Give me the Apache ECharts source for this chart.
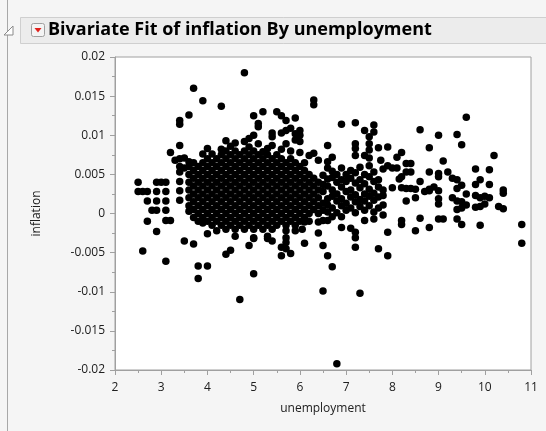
<!DOCTYPE html>
<html>
<head>
<meta charset="utf-8">
<script src="https://cdn.jsdelivr.net/npm/echarts@6/dist/echarts.min.js"></script>
<style>
  html, body { margin: 0; padding: 0; background: #f5f5f5; }
  #chart { width: 546px; height: 431px; }
</style>
</head>
<body>
<div id="chart"></div>
<script>
// Report title and axis names
const reportTitle = 'Bivariate Fit of inflation By unemployment';
const xName = 'unemployment';
const yName = 'inflation';

// Axis ranges and tick steps
const xRange = [2, 11];
const xStep = 1;
const yRange = [-0.02, 0.02];
const yStep = 0.005;

// Observations as [unemployment, inflation], grouped by unemployment range
const obsBelow36 = [
  [2.5,0.0040],[2.5,0.0028],[2.6,0.0028],[2.7,0.0028],[2.7,0.0016],[2.6,-0.0048],[2.7,-0.0010],[2.9,-0.0023],
  [2.9,0.0040],[3.0,0.0040],[3.1,0.0040],[2.9,0.0028],[3.1,0.0028],[2.9,0.0016],[3.1,0.0016],
  [2.8,0.0004],[2.9,0.0004],[3.1,0.0004],[3.1,-0.0009],[3.2,-0.0009],[3.1,-0.0061],[3.2,0.0078],
  [3.4,0.0087],[3.4,0.0119],[3.4,0.0114],[3.6,0.0126],[3.7,0.0160],[3.9,0.0144],
  [3.4,0.0041],[3.4,0.0029],[3.4,0.0017],[3.6,0.0003],[3.5,-0.0035],[3.7,-0.0039],
  [3.3,0.0068],[3.4,0.0070],[3.5,0.0071],[3.6,0.0066],[3.4,0.0060],[3.5,0.0058],[3.4,0.0053]
];

const obs36to49 = [
  [3.6,0.0010],[3.6,0.0020],[3.6,0.0030],[3.6,0.0040],[3.6,0.0050],[3.6,0.0060],
  [3.7,-0.0005],[3.7,0.0005],[3.7,0.0015],[3.7,0.0025],[3.7,0.0035],[3.7,0.0045],[3.7,0.0055],[3.7,0.0065],
  [3.8,-0.0010],[3.8,0.0000],[3.8,0.0010],[3.8,0.0020],[3.8,0.0030],[3.8,0.0040],[3.8,0.0050],[3.8,0.0060],
  [3.9,-0.0012],[3.9,-0.0005],[3.9,0.0005],[3.9,0.0015],[3.9,0.0025],[3.9,0.0035],[3.9,0.0045],[3.9,0.0055],[3.9,0.0065],[3.9,0.0076],
  [4.0,-0.0010],[4.0,0.0000],[4.0,0.0010],[4.0,0.0020],[4.0,0.0030],[4.0,0.0040],[4.0,0.0050],[4.0,0.0060],[4.0,0.0070],[4.0,0.0083],
  [4.1,-0.0015],[4.1,-0.0005],[4.1,0.0005],[4.1,0.0015],[4.1,0.0025],[4.1,0.0035],[4.1,0.0045],[4.1,0.0055],[4.1,0.0065],[4.1,0.0076],
  [4.2,-0.0010],[4.2,0.0000],[4.2,0.0010],[4.2,0.0020],[4.2,0.0030],[4.2,0.0040],[4.2,0.0050],[4.2,0.0060],[4.2,0.0070],
  [4.3,-0.0015],[4.3,-0.0005],[4.3,0.0005],[4.3,0.0015],[4.3,0.0025],[4.3,0.0035],[4.3,0.0045],[4.3,0.0055],[4.3,0.0065],[4.3,0.0075],[4.3,0.0082],[4.3,0.0137],
  [4.4,-0.0020],[4.4,-0.0010],[4.4,0.0000],[4.4,0.0010],[4.4,0.0020],[4.4,0.0030],[4.4,0.0040],[4.4,0.0050],[4.4,0.0060],[4.4,0.0070],[4.4,0.0080],[4.4,0.0093],
  [4.5,-0.0015],[4.5,-0.0005],[4.5,0.0005],[4.5,0.0015],[4.5,0.0025],[4.5,0.0035],[4.5,0.0045],[4.5,0.0055],[4.5,0.0065],[4.5,0.0075],[4.5,0.0086],
  [4.6,-0.0020],[4.6,-0.0010],[4.6,0.0000],[4.6,0.0010],[4.6,0.0020],[4.6,0.0030],[4.6,0.0040],[4.6,0.0050],[4.6,0.0060],[4.6,0.0070],[4.6,0.0080],[4.6,0.0090],
  [4.7,-0.0015],[4.7,-0.0005],[4.7,0.0005],[4.7,0.0015],[4.7,0.0025],[4.7,0.0035],[4.7,0.0045],[4.7,0.0055],[4.7,0.0065],[4.7,0.0075],
  [4.8,-0.0020],[4.8,-0.0010],[4.8,0.0000],[4.8,0.0010],[4.8,0.0020],[4.8,0.0030],[4.8,0.0040],[4.8,0.0050],[4.8,0.0060],[4.8,0.0070],[4.8,0.0080],[4.8,0.0092],[4.8,0.0180],
  [4.9,-0.0015],[4.9,-0.0005],[4.9,0.0005],[4.9,0.0015],[4.9,0.0025],[4.9,0.0035],[4.9,0.0045],[4.9,0.0055],[4.9,0.0065],[4.9,0.0075],[4.9,0.0085],[4.9,0.0096],
  [3.8,-0.0067],[4.0,-0.0067],[3.8,-0.0083],[4.0,-0.0026],[4.2,-0.0022],[4.6,-0.0029],[4.4,-0.0052],[4.5,-0.0047],[4.7,-0.0110],[4.9,-0.0041]
];

const obs50to64 = [
  [5.0,-0.0020],[5.0,-0.0010],[5.0,0.0000],[5.0,0.0010],[5.0,0.0020],[5.0,0.0030],[5.0,0.0040],[5.0,0.0050],[5.0,0.0060],[5.0,0.0070],[5.0,0.0080],[5.0,0.0100],[5.0,0.0125],
  [5.1,-0.0015],[5.1,-0.0005],[5.1,0.0005],[5.1,0.0015],[5.1,0.0025],[5.1,0.0035],[5.1,0.0045],[5.1,0.0055],[5.1,0.0065],[5.1,0.0075],[5.1,0.0089],[5.1,0.0111],[5.1,0.0115],
  [5.2,-0.0020],[5.2,-0.0010],[5.2,0.0000],[5.2,0.0010],[5.2,0.0020],[5.2,0.0030],[5.2,0.0040],[5.2,0.0050],[5.2,0.0060],[5.2,0.0070],[5.2,0.0079],[5.2,0.0130],
  [5.3,-0.0015],[5.3,-0.0005],[5.3,0.0005],[5.3,0.0015],[5.3,0.0025],[5.3,0.0035],[5.3,0.0045],[5.3,0.0055],[5.3,0.0065],[5.3,0.0075],[5.3,0.0083],
  [5.4,-0.0020],[5.4,-0.0010],[5.4,0.0000],[5.4,0.0010],[5.4,0.0020],[5.4,0.0030],[5.4,0.0040],[5.4,0.0050],[5.4,0.0060],[5.4,0.0070],[5.4,0.0087],[5.4,0.0098],[5.4,0.0103],
  [5.5,-0.0015],[5.5,-0.0005],[5.5,0.0005],[5.5,0.0015],[5.5,0.0025],[5.5,0.0035],[5.5,0.0045],[5.5,0.0055],[5.5,0.0065],[5.5,0.0075],[5.5,0.0130],
  [5.6,-0.0010],[5.6,0.0000],[5.6,0.0010],[5.6,0.0020],[5.6,0.0030],[5.6,0.0040],[5.6,0.0050],[5.6,0.0060],[5.6,0.0070],[5.6,0.0082],[5.6,0.0103],[5.6,0.0125],
  [5.7,-0.0015],[5.7,-0.0005],[5.7,0.0005],[5.7,0.0015],[5.7,0.0025],[5.7,0.0035],[5.7,0.0045],[5.7,0.0055],[5.7,0.0065],[5.7,0.0089],[5.7,0.0106],[5.7,0.0119],
  [5.8,-0.0010],[5.8,0.0000],[5.8,0.0010],[5.8,0.0020],[5.8,0.0030],[5.8,0.0040],[5.8,0.0050],[5.8,0.0060],[5.8,0.0070],[5.8,0.0080],[5.8,0.0109],
  [5.9,-0.0015],[5.9,-0.0005],[5.9,0.0005],[5.9,0.0015],[5.9,0.0025],[5.9,0.0035],[5.9,0.0045],[5.9,0.0055],[5.9,0.0065],[5.9,0.0094],[5.9,0.0102],[5.9,0.0122],
  [6.0,-0.0010],[6.0,0.0000],[6.0,0.0010],[6.0,0.0020],[6.0,0.0030],[6.0,0.0040],[6.0,0.0050],[6.0,0.0060],[6.0,0.0078],[6.0,0.0092],[6.0,0.0100],[6.0,0.0106],
  [6.1,-0.0011],[6.1,-0.0005],[6.1,0.0005],[6.1,0.0015],[6.1,0.0025],[6.1,0.0035],[6.1,0.0045],[6.1,0.0055],[6.1,0.0065],
  [6.2,-0.0010],[6.2,0.0000],[6.2,0.0010],[6.2,0.0020],[6.2,0.0030],[6.2,0.0040],[6.2,0.0050],[6.2,0.0074],
  [6.3,0.0005],[6.3,0.0015],[6.3,0.0025],[6.3,0.0035],[6.3,0.0045],[6.3,0.0077],[6.3,0.0139],[6.3,0.0145],
  [6.4,-0.0011],[6.4,0.0000],[6.4,0.0010],[6.4,0.0020],[6.4,0.0030],[6.4,0.0040],[6.4,0.0068],
  [5.0,-0.0031],[5.0,-0.0077],[5.0,-0.0032],[5.3,-0.0032],[5.4,-0.0035],[5.6,-0.0054],[5.8,-0.0051],[5.7,-0.0037],
  [5.7,-0.0045],[6.1,-0.0038],[5.3,-0.0029],[5.7,-0.0031],[5.6,-0.0043],[5.7,-0.0022],[5.9,-0.0022],[6.05,-0.0020],[6.4,-0.0025]
];

const obs65to79 = [
  [6.5,-0.0009],[6.5,0.0004],[6.5,0.0013],[6.5,0.0028],[6.5,0.0037],[6.5,0.0049],
  [6.6,0.0002],[6.6,0.0011],[6.6,0.0019],[6.6,0.0035],[6.6,0.0044],[6.6,0.0058],
  [6.7,-0.0004],[6.7,0.0007],[6.7,0.0022],[6.7,0.0030],[6.7,0.0046],[6.7,0.0054],
  [6.8,0.0001],[6.8,0.0016],[6.8,0.0025],[6.8,0.0040],[6.8,0.0050],
  [6.9,-0.0004],[6.9,0.0010],[6.9,0.0019],[6.9,0.0034],[6.9,0.0043],[6.9,0.0058],
  [7.0,0.0004],[7.0,0.0013],[7.0,0.0028],[7.0,0.0041],[7.0,0.0050],
  [7.1,0.0007],[7.1,0.0021],[7.1,0.0030],[7.1,0.0045],[7.1,0.0055],
  [7.2,0.0001],[7.2,0.0015],[7.2,0.0024],[7.2,0.0039],[7.2,0.0052],
  [7.3,0.0009],[7.3,0.0018],[7.3,0.0033],[7.3,0.0043],[7.3,0.0059],
  [7.4,-0.0009],[7.4,0.0004],[7.4,0.0016],[7.4,0.0025],[7.4,0.0038],[7.4,0.0050],
  [7.5,0.0010],[7.5,0.0022],[7.5,0.0031],[7.5,0.0047],[7.5,0.0061],
  [7.6,-0.0007],[7.6,0.0002],[7.6,0.0017],[7.6,0.0026],[7.6,0.0041],[7.6,0.0053],
  [7.7,0.0007],[7.7,0.0021],[7.7,0.0034],[7.7,0.0043],
  [7.8,0.0011],[7.8,-0.0002],[7.8,0.0023],[7.8,0.0030],[7.8,0.0057],
  [6.9,0.0114],[7.2,0.0116],[7.6,0.0113],[7.6,0.0104],[7.4,0.0106],[7.5,0.0098],[7.5,0.0089],[7.5,0.0081],
  [7.2,0.0089],[7.2,0.0083],[7.2,0.0074],[7.7,0.0084],[7.4,0.0074],[7.5,0.0071],[7.9,0.0061],[7.9,0.0085],[7.75,0.0068],
  [6.6,0.0087],[6.7,0.0072],[6.6,0.0066],
  [6.9,-0.0018],[7.1,-0.0019],[7.2,-0.0024],[7.2,-0.0043],[7.3,-0.0102],[7.7,-0.0045],[7.9,-0.0024],[7.9,-0.0054],
  [6.6,-0.0009],[6.5,-0.0099],[6.6,-0.0054],[6.7,-0.0068],[6.8,-0.0192],[6.5,-0.0041],[7.2,-0.0031]
];

const obsFrom80 = [
  [8.6,0.0107],[9.0,0.0100],[9.4,0.0101],[9.5,0.0088],[8.8,0.0084],[10.2,0.0074],[9.6,0.0123],
  [8.2,0.0078],[8.1,0.0072],[8.3,0.0064],[8.4,0.0064],[8.0,0.0058],[8.1,0.0058],[8.3,0.0053],[8.4,0.0053],
  [8.2,0.0047],[8.15,0.0044],[8.6,0.0041],[8.0,0.0033],[8.2,0.0033],[8.3,0.0032],[8.4,0.0032],[8.5,0.0031],
  [8.7,0.0028],[8.8,0.0031],[8.9,0.0034],[9.0,0.0029],[9.1,0.0067],[8.8,0.0053],[9.0,0.0051],[9.0,0.0047],
  [9.2,0.0053],[9.3,0.0045],[9.4,0.0043],[9.5,0.0036],[9.4,0.0032],[9.6,0.0025],[9.8,0.0057],[10.1,0.0056],
  [9.9,0.0043],[9.8,0.0037],[10.1,0.0037],[10.4,0.0030],[10.4,0.0026],[9.8,0.0023],[9.9,0.0020],[10.0,0.0022],
  [10.1,0.0020],[9.8,0.0008],[9.9,0.0009],[10.0,0.0012],[10.3,0.0009],[10.4,0.0006],[9.9,-0.0015],
  [10.8,-0.0014],[10.8,-0.0038],[9.0,0.0019],[9.0,0.0012],[9.0,-0.0007],[9.1,-0.0007],[9.4,-0.0007],
  [9.5,-0.0014],[8.8,-0.0018],[8.5,-0.0022],[8.6,-0.0006],[8.2,-0.0009],[8.2,-0.0014],[8.3,0.0016],
  [8.5,0.0020],[9.3,0.0020],[9.4,0.0016],[9.5,0.0015],[9.6,0.0011],[9.4,0.0005],[9.5,0.0007],[8.8,0.0029]
];

const observations = [].concat(obsBelow36, obs36to49, obs50to64, obs65to79, obsFrom80);

const chart = echarts.init(document.getElementById('chart'), null, { renderer: 'canvas' });

const axisGray = '#a0a0a0';
const labelFont = { color: '#202020', fontSize: 12, fontFamily: '"Open Sans", "Noto Sans", sans-serif' };

function fmt(v) {
  return String(Number(v.toFixed(4)));
}

chart.setOption({
  backgroundColor: '#f5f5f5',
  animation: false,
  grid: {
    left: 115, right: 15, top: 57, bottom: 61,
    show: true, backgroundColor: '#ffffff', borderColor: axisGray, borderWidth: 1
  },
  xAxis: {
    type: 'value',
    min: xRange[0], max: xRange[1], interval: xStep,
    name: xName, nameLocation: 'middle', nameGap: 33,
    nameTextStyle: labelFont,
    axisLine: { show: true, onZero: false, lineStyle: { color: axisGray } },
    axisTick: { show: true, length: 5, lineStyle: { color: axisGray } },
    minorTick: { show: true, splitNumber: 2, length: 3, lineStyle: { color: axisGray } },
    splitLine: { show: false },
    axisLabel: Object.assign({ margin: 12, formatter: fmt }, labelFont)
  },
  yAxis: {
    type: 'value',
    min: yRange[0], max: yRange[1], interval: yStep,
    name: yName, nameLocation: 'middle', nameGap: 72, nameRotate: 90,
    nameTextStyle: labelFont,
    axisLine: { show: true, onZero: false, lineStyle: { color: axisGray } },
    axisTick: { show: true, length: 5, lineStyle: { color: axisGray } },
    minorTick: { show: true, splitNumber: 2, length: 3, lineStyle: { color: axisGray } },
    splitLine: { show: false },
    axisLabel: Object.assign({ margin: 10, formatter: fmt }, labelFont)
  },
  series: [{
    type: 'scatter',
    data: observations,
    symbol: 'circle',
    symbolSize: 7.5,
    itemStyle: { color: '#000000', opacity: 1 },
    silent: true
  }],
  graphic: [
    // outline on the left edge of the report
    { type: 'line', shape: { x1: 7.5, y1: 0, x2: 7.5, y2: 431 }, style: { stroke: '#a8a8a8', lineWidth: 1 } },
    // title bar
    { type: 'rect', shape: { x: 20.5, y: 17.5, width: 530, height: 26 }, style: { fill: '#ececec', stroke: '#cfcfcf', lineWidth: 1 } },
    // disclosure triangle
    { type: 'polygon', shape: { points: [[13, 26], [13, 35], [4, 35]] }, style: { fill: '#ffffff', stroke: '#8a8a8a', lineWidth: 1 } },
    // red popup-menu button
    { type: 'rect', shape: { x: 31.5, y: 23.5, width: 13, height: 13, r: 2 }, style: { fill: '#f4f4f4', stroke: '#a0a0a0', lineWidth: 1 } },
    { type: 'polygon', shape: { points: [[34.5, 28], [41.5, 28], [38, 32.5]] }, style: { fill: '#e0201c' } },
    {
      type: 'text', left: 48, top: 21,
      style: {
        text: reportTitle, fill: '#000000',
        font: 'bold 18px "Open Sans", "Noto Sans", sans-serif'
      }
    }
  ]
});
</script>
</body>
</html>
